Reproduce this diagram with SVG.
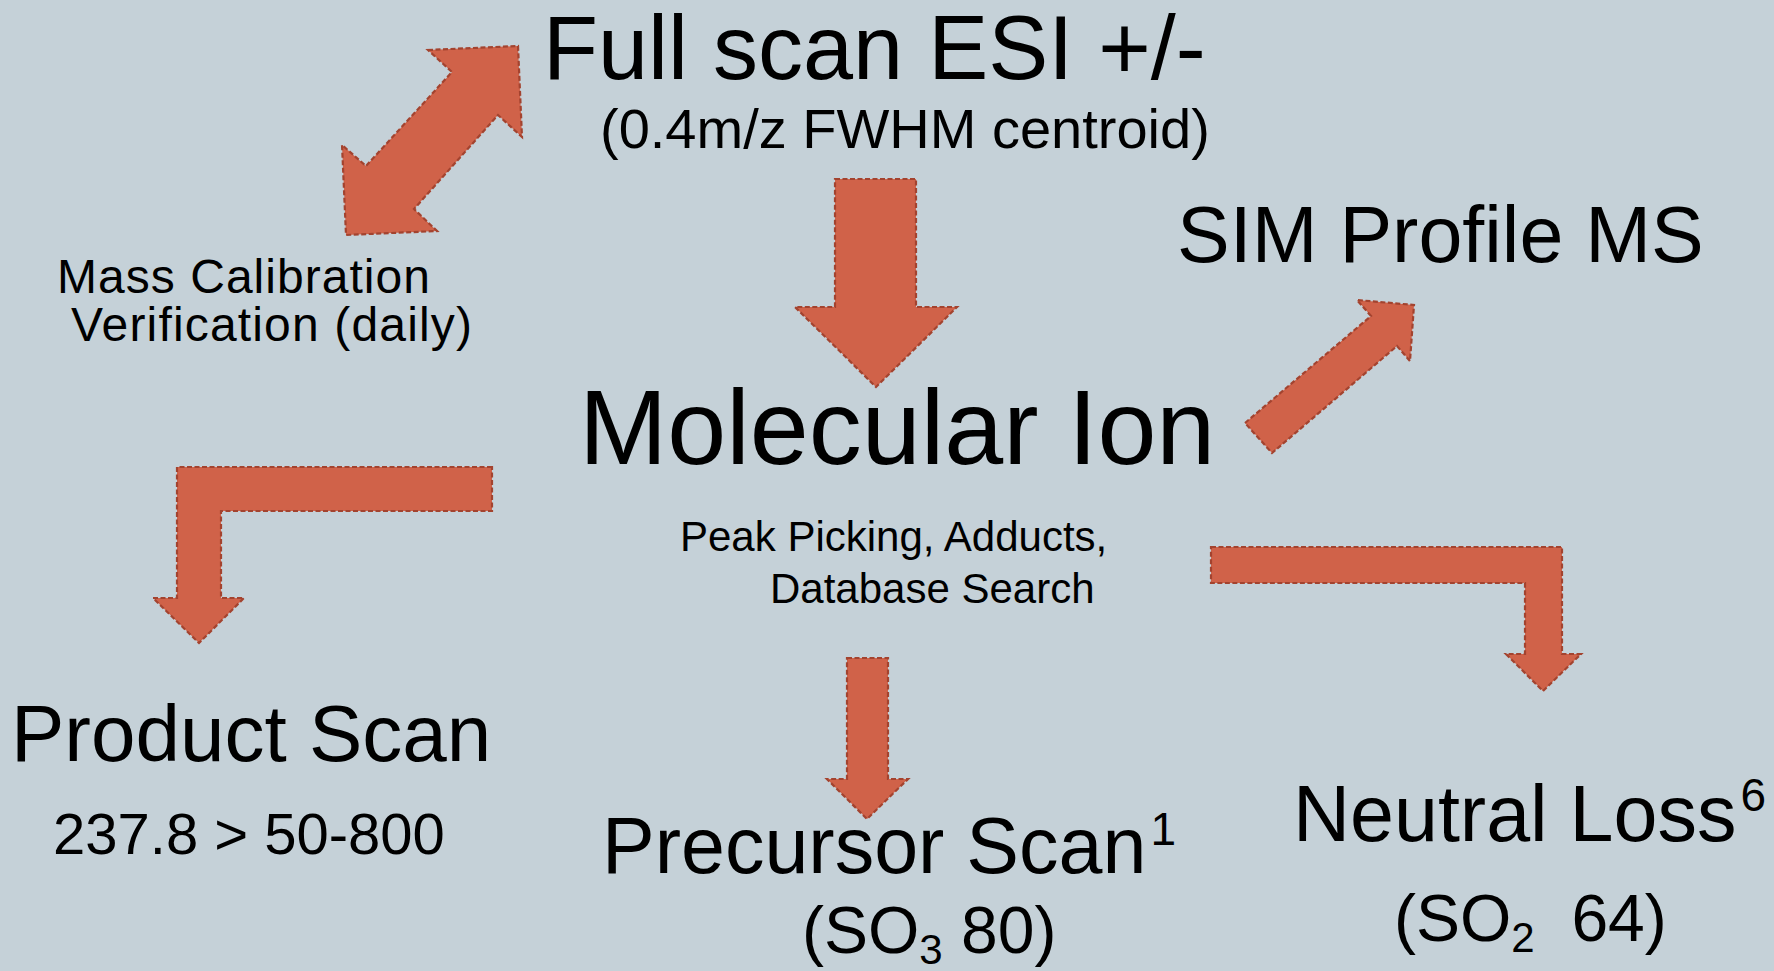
<svg xmlns="http://www.w3.org/2000/svg" width="1774" height="971" viewBox="0 0 1774 971">
  <style>
    .arrow { fill: #D06249; stroke: #A3432F; stroke-width: 2.2; stroke-dasharray: 5 2.5; stroke-linejoin: miter; }
    text { font-family: "Liberation Sans", Arial, sans-serif; fill: #000; }
  </style>
  <rect width="1774" height="971" fill="#C5D1D8"/>

  <!-- block arrows linking the stages -->
  <g id="connectors">
    <polygon id="arrow-calibration" class="arrow" points="428,50 518,46 522,137 498,115 414,209 437,231 346,235 342,145 366,166 452,72"/>
    <polygon id="arrow-full-to-ion" class="arrow" points="835,179 916,179 916,307 957,307 876,387 795,307 835,307"/>
    <polygon id="arrow-ion-to-sim" class="arrow" points="1245,423 1371,316 1357,300 1414,305 1410,361 1397,346 1272,453"/>
    <polygon id="arrow-ion-to-product" class="arrow" points="492,467 177,467 177,598 153,598 199,643 244,598 221,598 221,511 492,511"/>
    <polygon id="arrow-ion-to-neutral" class="arrow" points="1211,547 1562,547 1562,654 1581,654 1543,691 1506,654 1525,654 1525,583 1211,583"/>
    <polygon id="arrow-ion-to-precursor" class="arrow" points="847,658 888,658 888,779 908,779 867,819 827,779 847,779"/>
  </g>

  <g id="full-scan">
    <text x="543" y="79" font-size="90">Full scan ESI +/-</text>
    <text x="600" y="148" font-size="56">(0.4m/z FWHM centroid)</text>
  </g>

  <g id="mass-calibration">
    <text x="57" y="293" font-size="48" textLength="373">Mass Calibration</text>
    <text x="71" y="341" font-size="48" textLength="401">Verification (daily)</text>
  </g>

  <g id="sim-profile">
    <text x="1177" y="262" font-size="79">SIM Profile MS</text>
  </g>

  <g id="molecular-ion">
    <text x="579" y="464" font-size="106">Molecular Ion</text>
    <text x="680" y="551" font-size="42">Peak Picking, Adducts,</text>
    <text x="770" y="603" font-size="42">Database Search</text>
  </g>

  <g id="product-scan">
    <text x="11" y="761" font-size="80">Product Scan</text>
    <text x="53" y="854" font-size="58">237.8 &gt; 50-800</text>
  </g>

  <g id="precursor-scan">
    <text x="602" y="873" font-size="79">Precursor Scan<tspan font-size="46" dx="4" dy="-28">1</tspan></text>
    <text x="802" y="953" font-size="66">(SO<tspan font-size="42" dy="11">3</tspan><tspan dy="-11"> 80)</tspan></text>
  </g>

  <g id="neutral-loss">
    <text x="1293" y="841" font-size="79">Neutral Loss<tspan font-size="46" dx="4" dy="-30">6</tspan></text>
    <text x="1394" y="941" font-size="66">(SO<tspan font-size="42" dy="11">2</tspan><tspan dy="-11" xml:space="preserve">  64)</tspan></text>
  </g>
</svg>
